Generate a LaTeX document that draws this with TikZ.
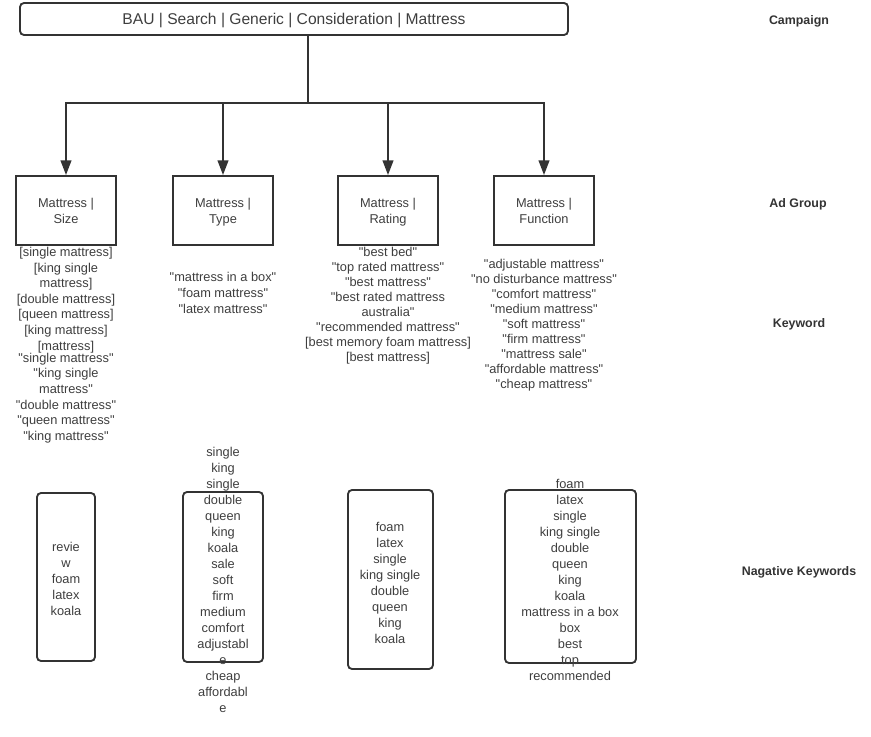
\documentclass[tikz,border=0pt]{standalone}
\usepackage{fontspec}
\setmainfont{Liberation Sans}[Ligatures=TeXOff]
\usepackage{tikz}
\usetikzlibrary{shapes,arrows.meta}
\definecolor{ink}{RGB}{51,51,51}
\definecolor{inktext}{RGB}{62,62,62}

\begin{document}
\begin{tikzpicture}[x=0.75pt,y=0.75pt,yscale=-1,xscale=1,
  box/.style={draw=ink,line width=1.4pt,rectangle,align=center,inner sep=0pt,text=inktext,text depth=0pt,font=\fontsize{9.6}{12}\selectfont},
  negbox/.style={draw=ink,line width=1.4pt,rectangle,rounded corners=3pt,inner sep=0pt},
  kwtext/.style={align=center,inner sep=0pt,text=inktext,font=\fontsize{9.6}{11.7}\selectfont},
  negtext/.style={align=center,inner sep=0pt,text=inktext,font=\fontsize{9.6}{12}\selectfont},
  level/.style={font=\bfseries\fontsize{9.3}{11}\selectfont,text=ink,inner sep=0pt},
  link/.style={draw=ink,line width=1.4pt},
  arr/.style={link,-{Triangle[length=11pt,width=8pt]}}]
%set diagram size to 871 x 737
\useasboundingbox (0,0) rectangle (871,737);
%Campaign [id:campaign]
\node (camp) at (294,19) [box,rounded corners=3pt,minimum width=411pt,minimum height=24pt,font=\fontsize{11.7}{14}\selectfont] {BAU | Search | Generic | Consideration | Mattress};
\coordinate (split) at (308,103);
%Ad Groups [id:adgroups]
\node (size) at (66,210.5) [box,minimum width=75pt,minimum height=51.75pt] {Mattress |\\ Size};
\node (type) at (223,210.5) [box,minimum width=75pt,minimum height=51.75pt] {Mattress |\\ Type};
\node (rating) at (388,210.5) [box,minimum width=75pt,minimum height=51.75pt] {Mattress |\\ Rating};
\node (function) at (544,210.5) [box,minimum width=75pt,minimum height=51.75pt] {Mattress |\\ Function};
%Straight Lines [id:stem]
\draw [link] (camp.south -| split) -- (split) ;
%Connectors [id:branches]
\foreach \grp in {size,type,rating,function}
  \draw [arr] (split) -| (\grp.north) ;
% Keyword Text
\node (kwsizeA) at (66,300) [kwtext] {{[single mattress]}\\ {[king single}\\ mattress]\\ {[double mattress]}\\ {[queen mattress]}\\ {[king mattress]}\\ {[mattress]}};
\node (kwsizeB) at (66,398) [kwtext] {"single mattress"\\ "king single\\ mattress"\\ "double mattress"\\ "queen mattress"\\ "king mattress"};
\node (kwtype) at (223,293) [kwtext] {"mattress in a box"\\ "foam mattress"\\ "latex mattress"};
\node (kwrating) at (388,305.5) [kwtext,font=\fontsize{9.6}{11.25}\selectfont] {"best bed"\\ "top rated mattress"\\ "best mattress"\\ "best rated mattress\\ australia"\\ "recommended mattress"\\ {[best memory foam mattress]}\\ {[best mattress]}};
\node (kwfunction) at (544,325) [kwtext,font=\fontsize{9.6}{11.25}\selectfont] {"adjustable mattress"\\ "no disturbance mattress"\\ "comfort mattress"\\ "medium mattress"\\ "soft mattress"\\ "firm mattress"\\ "mattress sale"\\ "affordable mattress"\\ "cheap mattress"};
%Negative Keyword Boxes
\node (negsize) at (66,577) [negbox,minimum width=43.5pt,minimum height=126pt] {};
\node (negtype) at (223,577) [negbox,minimum width=60pt,minimum height=127.5pt] {};
\node (negrating) at (390.5,579.5) [negbox,minimum width=63.75pt,minimum height=134.25pt] {};
\node (negfunction) at (570.5,576.5) [negbox,minimum width=98.25pt,minimum height=129.75pt] {};
% Negative Keyword Text
\node (negsizetxt) at (66,579) [negtext] {revie\\ w\\ foam\\ latex\\ koala};
\node (negtypetxt) at (223,580) [negtext] {single\\ king\\ single\\ double\\ queen\\ king\\ koala\\ sale\\ soft\\ firm\\ medium\\ comfort\\ adjustabl\\ e\\ cheap\\ affordabl\\ e};
\node (negratingtxt) at (390,583) [negtext] {foam\\ latex\\ single\\ king single\\ double\\ queen\\ king\\ koala};
\node (negfunctiontxt) at (570,580) [negtext] {foam\\ latex\\ single\\ king single\\ double\\ queen\\ king\\ koala\\ mattress in a box\\ box\\ best\\ top\\ recommended};
% Level Labels
\node (lvlcamp) at (799,21) [level] {Campaign};
\node (lvlad) at (798,204) [level] {Ad Group};
\node (lvlkw) at (799,324) [level] {Keyword};
\node (lvlneg) at (799,572) [level] {Nagative Keywords};
\end{tikzpicture}
\end{document}
